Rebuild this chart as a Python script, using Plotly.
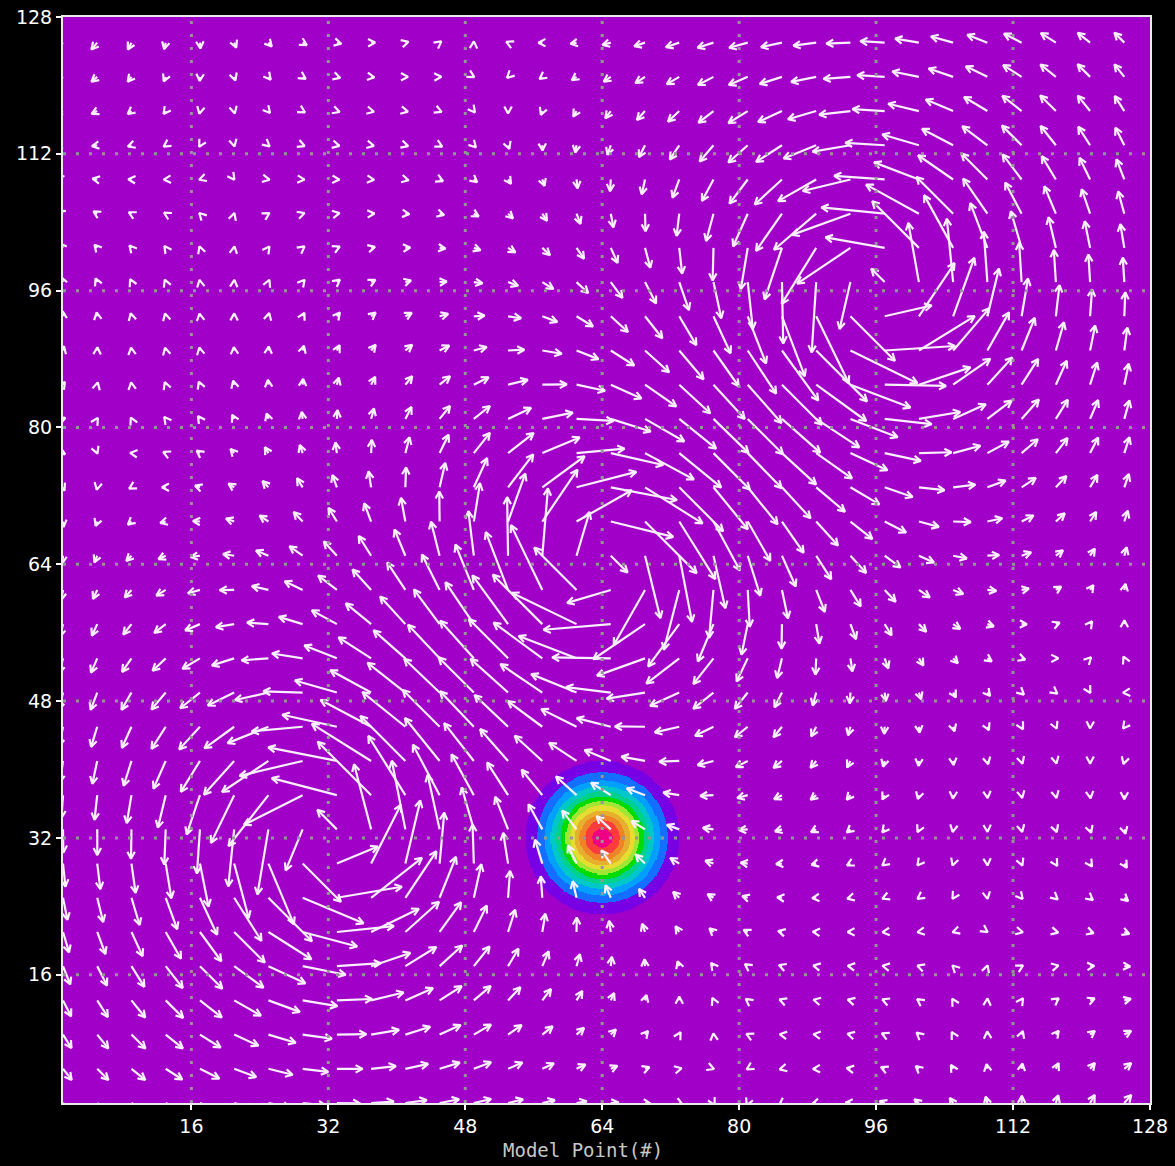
import numpy as np
import plotly.graph_objects as go

# ---------------- data ----------------
tick_values = [16, 32, 48, 64, 80, 96, 112, 128]
grid_values = [16, 32, 48, 64, 80, 96, 112]
arrow_points = list(range(1, 128, 4))          # vectors drawn every 4 model points

# three vortices (doubly periodic 128x128 domain)
vortex_x = [32, 64, 96]
vortex_y = [32, 64, 96]
vortex_spin = [1, -1, 1]                        # +1 counter-clockwise, -1 clockwise
vortex_strength = [700.0, 700.0, 700.0]         # arrow px * model points
vortex_core = [6.5, 6.5, 6.5]                   # model points
domain_period = 128

# tracer blob
tracer_x = [64]
tracer_y = [32]
tracer_width = [4.0]
tracer_peak = [1.0]
shade_levels = [0.08, 0.16, 0.24, 0.32, 0.40, 0.48, 0.56, 0.64, 0.72, 0.80, 0.88, 0.96]
shade_colors = ['rgb(160,0,200)', 'rgb(120,0,228)', 'rgb(20,110,255)', 'rgb(0,160,255)',
                'rgb(0,200,200)', 'rgb(0,210,140)', 'rgb(0,220,0)', 'rgb(160,230,50)',
                'rgb(230,220,50)', 'rgb(230,175,45)', 'rgb(240,130,40)', 'rgb(250,60,60)',
                'rgb(240,0,130)']

x_title = "Model Point(#)"

# ---------------- layout geometry ----------------
W, H = 1175, 1166
ML, MR, MT, MB = 63, 25, 17, 63
X0, X1 = 1, 128
sx = (W - ML - MR) / (X1 - X0)
sy = (H - MT - MB) / (X1 - X0)

# ---------------- vector field ----------------
gx, gy = np.meshgrid(np.array(arrow_points, float), np.array(arrow_points, float))
u = np.zeros_like(gx)
v = np.zeros_like(gy)
P = domain_period
for cx, cy, sp, k, c in zip(vortex_x, vortex_y, vortex_spin, vortex_strength, vortex_core):
    for ox in (-P, 0, P):
        for oy in (-P, 0, P):
            dx = gx - (cx + ox)
            dy = gy - (cy + oy)
            r2 = dx * dx + dy * dy
            f = sp * k * (1 - np.exp(-r2 / c ** 2)) / np.maximum(r2, 1e-9)
            u += -f * dy
            v += f * dx

head_len = 8.0
head_ang = np.deg2rad(28)
ax_, ay_ = [], []
for x0, y0, uu, vv in zip(gx.ravel(), gy.ravel(), u.ravel(), v.ravel()):
    x1 = x0 + uu / sx
    y1 = y0 + vv / sy
    th = np.arctan2(vv, uu)
    bx1 = x1 - head_len * np.cos(th + head_ang) / sx
    by1 = y1 - head_len * np.sin(th + head_ang) / sy
    bx2 = x1 - head_len * np.cos(th - head_ang) / sx
    by2 = y1 - head_len * np.sin(th - head_ang) / sy
    ax_ += [x0, x1, None, bx1, x1, bx2, None]
    ay_ += [y0, y1, None, by1, y1, by2, None]

# ---------------- tracer shading ----------------
hx = np.arange(51, 77.001, 0.125)
hy = np.arange(19, 45.001, 0.125)
HX, HY = np.meshgrid(hx, hy)
z = np.zeros_like(HX)
for tx, ty, tw, tp in zip(tracer_x, tracer_y, tracer_width, tracer_peak):
    z += tp * np.exp(-((HX - tx) ** 2 + (HY - ty) ** 2) / (2 * tw ** 2))
idx = np.searchsorted(np.array(shade_levels), z, side='right')
n = len(shade_colors)
cscale = []
for i, col in enumerate(shade_colors):
    cscale.append([i / n, col])
    cscale.append([(i + 1) / n, col])

fig = go.Figure()
fig.add_trace(go.Heatmap(x=hx, y=hy, z=idx, zmin=-0.5, zmax=n - 0.5, colorscale=cscale,
                         zsmooth=False, showscale=False, hoverinfo='skip'))

fig.add_trace(go.Scatter(x=ax_, y=ay_, mode='lines',
                         line=dict(color='rgb(250,240,255)', width=2.2),
                         hoverinfo='skip', showlegend=False))

# dotted grid on top
grx, gry = [], []
for g in grid_values:
    grx += [g, g, None]
    gry += [X0, X1, None]
    grx += [X0, X1, None]
    gry += [g, g, None]
fig.add_trace(go.Scatter(x=grx, y=gry, mode='lines',
                         line=dict(color='rgb(150,150,150)', width=3, dash='3px,10px'),
                         hoverinfo='skip', showlegend=False))

axis_common = dict(range=[X0, X1], tickvals=tick_values, ticks='outside', ticklen=5,
                   tickwidth=2, tickcolor='white', showline=True, mirror=True,
                   linecolor='rgb(235,235,235)', linewidth=2, showgrid=False, zeroline=False,
                   automargin=False,
                   tickfont=dict(family='DejaVu Sans', size=19, color='white'))
fig.update_xaxes(**axis_common)
fig.update_yaxes(**axis_common)

fig.add_annotation(text=x_title, xref='paper', yref='paper', x=(583 - ML) / (W - ML - MR),
                   y=-(1150 - (H - MB)) / (H - MT - MB), xanchor='center', yanchor='middle',
                   showarrow=False,
                   font=dict(family='DejaVu Sans Mono', size=19, color='rgb(200,200,200)'))

fig.update_layout(width=W, height=H, margin=dict(l=ML, r=MR, t=MT, b=MB, autoexpand=False),
                  paper_bgcolor='black', plot_bgcolor=shade_colors[0], showlegend=False)

fig.write_html("out.html", config={'displayModeBar': False},
               post_script="document.body.style.margin='0';document.body.style.background='black';")
